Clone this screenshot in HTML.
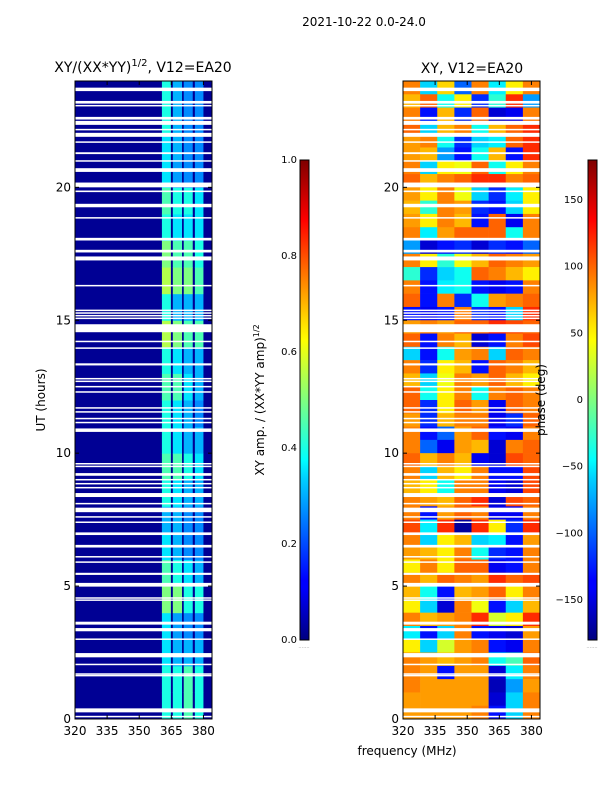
<!DOCTYPE html>
<html><head><meta charset="utf-8"><style>
body{margin:0;background:#fff;width:600px;height:800px;overflow:hidden}
svg{font-family:"DejaVu Sans","Liberation Sans",sans-serif}
</style></head><body>
<svg id="fig" width="600" height="800" viewBox="0 0 600 800" xmlns="http://www.w3.org/2000/svg">
<defs>
<linearGradient id="jet" x1="0" y1="1" x2="0" y2="0">
<stop offset="0" stop-color="#00007f"/><stop offset="0.11" stop-color="#0000ff"/><stop offset="0.125" stop-color="#0000ff"/><stop offset="0.34" stop-color="#00d4ff"/><stop offset="0.375" stop-color="#0ff"/><stop offset="0.5" stop-color="#7fff7f"/><stop offset="0.625" stop-color="#ff0"/><stop offset="0.66" stop-color="#ffe000"/><stop offset="0.875" stop-color="#f00"/><stop offset="1" stop-color="#7f0000"/>
</linearGradient>
</defs>
<text x="364" y="26" font-size="12" text-anchor="middle">2021-10-22 0.0-24.0</text>
<text x="143" y="72" font-size="14" text-anchor="middle">XY/(XX*YY)<tspan font-size="10" dy="-6">1/2</tspan><tspan dy="6">, V12=EA20</tspan></text>
<text x="472" y="73" font-size="14" text-anchor="middle">XY, V12=EA20</text>
<g id="left"></g>
<g id="right"></g>
<g id="axes"></g>
<text x="45" y="400" font-size="12" text-anchor="middle" transform="rotate(-90 45 400)">UT (hours)</text>
<text x="407" y="755" font-size="12" text-anchor="middle">frequency (MHz)</text>
<rect x="300" y="160" width="9" height="480" fill="url(#jet)" stroke="#000" stroke-width="1"/>
<rect x="588" y="160" width="9" height="480" fill="url(#jet)" stroke="#000" stroke-width="1"/>
<text x="264" y="400" font-size="12" text-anchor="middle" transform="rotate(-90 264 400)">XY amp. / (XX*YY amp)<tspan font-size="8" dy="-5">1/2</tspan></text>
<text x="545" y="400" font-size="12" text-anchor="middle" transform="rotate(-90 545 400)">phase (deg)</text>
<text x="304" y="648" font-size="5" text-anchor="middle" fill="#888">.......</text>
<text x="592" y="648" font-size="5" text-anchor="middle" fill="#888">.......</text>
</svg>
<script>
const hourTicks=[0,5,10,15,20];
const freqTicks=[320,335,350,365,380];
const ampTicks=[0.0,0.2,0.4,0.6,0.8,1.0];
const phaseTicks=[-150,-100,-50,0,50,100,150];
const ampBackground=0.02;
const stripeBands=[[360.6,364.8],[365.7,370],[370.8,375],[376,380]];
const stripe1=[0.4,0.4,0.35,0.35,0.5,0.45,0.35,0.3,0.4,0.45,0.4,0.4,0.45,0.4,0.55,0.4,0.55,0.5,0.4,0.45,0.35,0.35,0.4,0.4];
const stripe2=[0.4,0.4,0.3,0.28,0.5,0.4,0.3,0.3,0.35,0.45,0.35,0.35,0.45,0.35,0.5,0.3,0.5,0.45,0.35,0.4,0.28,0.3,0.3,0.3];
const stripe3=[0.45,0.45,0.3,0.26,0.4,0.35,0.26,0.26,0.3,0.4,0.3,0.3,0.35,0.3,0.45,0.3,0.5,0.45,0.35,0.4,0.26,0.26,0.26,0.26];
const stripe4=[0.4,0.4,0.3,0.26,0.4,0.3,0.26,0.26,0.3,0.35,0.3,0.26,0.3,0.3,0.45,0.3,0.45,0.4,0.35,0.35,0.26,0.26,0.26,0.26];
// phase rows from 24h downward, half-hour each, 8 freq columns of 8 MHz
const phaseRows=[
[90,-60,60,-100,90,-50,50,90],[70,100,-40,50,-120,-30,120,-80],[90,-130,70,-120,100,-150,-140,90],[100,-60,70,90,-40,70,100,120],
[80,90,-40,-120,-60,-50,100,120],[80,70,-80,-130,-40,70,-130,120],[90,-60,50,40,100,-40,50,90],[100,70,90,100,120,120,90,100],
[80,50,90,40,-60,-120,-50,50],[70,-30,90,80,-120,-130,-60,50],[80,50,90,70,-130,100,-140,90],[90,-50,80,100,100,100,-40,90],
[-80,-150,-130,-120,-150,-120,-130,-100],[90,50,-30,40,70,100,90,80],[-30,-120,-60,-40,100,90,70,50],[90,-130,-50,-40,-130,-140,-130,90],
[100,-130,90,-120,-40,80,90,100],[-130,-140,-130,90,-120,-130,-60,120],[80,90,80,100,100,120,110,100],[100,-130,90,70,-150,-130,90,110],
[-60,-130,-40,80,90,-60,100,90],[90,-120,50,70,-130,100,90,70],[70,-60,40,90,80,100,70,50],[100,-40,50,90,-40,90,100,90],
[100,-120,50,100,80,-140,100,90],[80,-120,70,90,90,-140,-120,100],[90,-130,-100,80,100,-130,-140,90],[90,-100,-140,80,70,-150,90,100],
[100,70,90,70,-140,-150,110,100],[90,-60,70,50,90,-130,-130,110],[70,50,-40,90,90,-140,-150,110],[90,80,70,100,120,-150,110,100],
[90,-130,80,100,90,-140,-140,90],[110,-50,120,-170,120,50,-120,120],[90,-60,50,70,-60,-50,-130,80],[80,70,50,90,-40,-120,-130,90],
[50,90,50,100,100,-140,-130,90],[90,70,100,90,80,120,100,110],[70,-40,-130,70,80,100,50,90],[50,-60,-150,90,40,-130,-60,70],
[90,70,80,90,120,30,50,120],[-50,-130,-60,90,-130,-140,-150,80],[50,-60,30,80,90,-130,-140,90],[90,80,70,80,90,-40,-20,100],
[90,80,-130,80,80,-150,-50,90],[90,80,80,80,80,-160,-80,80],[80,80,80,80,80,-150,-60,90],[80,80,80,80,90,-130,-60,90]];
const flagged=[[23.62,23.75],[23.15,23.25],[23.05,23.1],[22.55,22.65],[22.35,22.5],[22.15,22.2],[21.9,22.05],[21.68,21.73],[21.25,21.32],[20.97,21.02],[20.58,20.72],[20.0,20.18],[19.82,19.88],[19.25,19.38],[18.83,18.88],[18.0,18.1],[17.55,17.65],[17.25,17.4],[16.28,16.33],[15.05,15.1],[15.15,15.2],[15.25,15.3],[15.35,15.4],[14.55,14.85],[14.18,14.23],[13.93,13.98],[13.3,13.38],[12.78,12.83],[12.68,12.73],[12.48,12.53],[12.28,12.33],[11.68,11.73],[11.53,11.58],[11.28,11.33],[11.13,11.18],[10.8,10.93],[9.58,9.63],[9.48,9.53],[9.15,9.25],[8.98,9.03],[8.83,8.88],[8.68,8.73],[8.35,8.5],[8.08,8.13],[7.78,7.95],[7.58,7.63],[7.38,7.43],[6.92,7.02],[6.45,6.55],[6.08,6.13],[5.88,5.93],[5.42,5.5],[4.98,5.12],[4.53,4.58],[4.46,4.5],[3.55,3.66],[3.3,3.42],[2.98,3.03],[2.32,2.48],[2.03,2.08],[1.68,1.72],[1.62,1.66],[0.25,0.4],[0.08,0.12]];
const NS='http://www.w3.org/2000/svg';
const L={x0:75,x1:212},R={x0:403,x1:540},Y={y0:719,y1:81};
const fmin=320,fmax=384,hmin=0,hmax=24;
function xs(p,f){return p.x0+(f-fmin)/(fmax-fmin)*(p.x1-p.x0);}
function ys(h){return Y.y0-(h-hmin)/(hmax-hmin)*(Y.y0-Y.y1);}
function clip(v){return Math.max(0,Math.min(1,v));}
function jet(v){v=clip(v);const r=clip(1.5-Math.abs(4*v-3)),g=clip(1.5-Math.abs(4*v-2)),b=clip(1.5-Math.abs(4*v-1));return `rgb(${Math.round(r*255)},${Math.round(g*255)},${Math.round(b*255)})`;}
function rect(parent,x,y,w,h,fill){const r=document.createElementNS(NS,'rect');r.setAttribute('x',x);r.setAttribute('y',y);r.setAttribute('width',w);r.setAttribute('height',h);r.setAttribute('fill',fill);parent.appendChild(r);return r;}
function txt(parent,x,y,s,anchor,size){const t=document.createElementNS(NS,'text');t.setAttribute('x',x);t.setAttribute('y',y);t.setAttribute('font-size',size||12);t.setAttribute('text-anchor',anchor);t.textContent=s;parent.appendChild(t);return t;}
const left=document.getElementById('left'),right=document.getElementById('right'),axes=document.getElementById('axes');
let bg=rect(left,L.x0,Y.y1,L.x1-L.x0,Y.y0-Y.y1,jet(ampBackground));


const stripes=[stripe1,stripe2,stripe3,stripe4];
stripes.forEach((arr,si)=>{const [fa,fb]=stripeBands[si];arr.forEach((v,h)=>{const c=rect(left,xs(L,fa),ys(h+1),xs(L,fb)-xs(L,fa),ys(h)-ys(h+1)+0.5,jet(v));

});});
const ncol=8,colW=(fmax-fmin)/ncol;
phaseRows.forEach((row,ri)=>{const hTop=hmax-ri*0.5;row.forEach((p,ci)=>{const fa=fmin+ci*colW;const c=rect(right,xs(R,fa),ys(hTop),xs(R,fa+colW)-xs(R,fa)+0.3,ys(hTop-0.5)-ys(hTop)+0.3,jet((p+180)/360));

});});
[[left,L],[right,R]].forEach(([g,p])=>{flagged.forEach(([a,b])=>{const f=rect(g,p.x0,ys(b),p.x1-p.x0,Math.max(1.5,ys(a)-ys(b)),'#fff');

});});
[[L,'left'],[R,'right']].forEach(([p,nm])=>{const fr=rect(axes,p.x0,Y.y1,p.x1-p.x0,Y.y0-Y.y1,'none');fr.setAttribute('stroke','#000');


hourTicks.forEach(h=>{const t=txt(axes,p.x0-4,ys(h)+4,String(h),'end',12);


rect(axes,p.x0,ys(h)-0.5,4,1,'#000');rect(axes,p.x1-4,ys(h)-0.5,4,1,'#000');});
freqTicks.forEach(f=>{const t=txt(axes,xs(p,f),Y.y0+16,String(f),'middle',12);


rect(axes,xs(p,f)-0.5,Y.y0-4,1,4,'#000');rect(axes,xs(p,f)-0.5,Y.y1,1,4,'#000');});});
ampTicks.forEach(v=>{const y=640-v*480;const t=txt(axes,297,y+3,v.toFixed(1),'end',10);

});
phaseTicks.forEach(v=>{const y=640-(v+180)/360*480;const t=txt(axes,583,y+3,v<0?'\u2212'+Math.abs(v):String(v),'end',10);

});
</script>
</body></html>
